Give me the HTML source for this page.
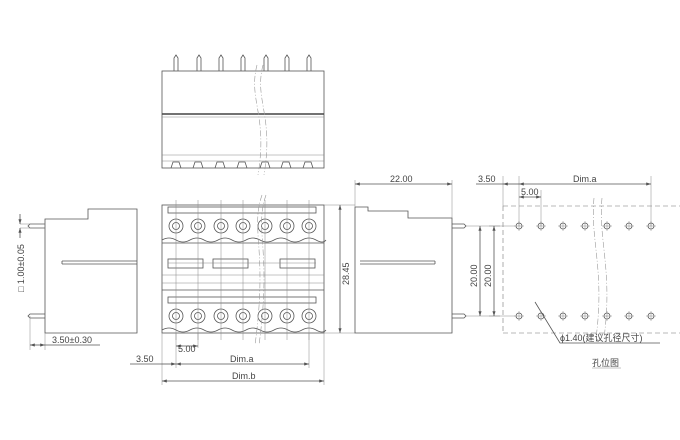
<!DOCTYPE html>
<html><head><meta charset="utf-8"><style>
html,body{margin:0;padding:0;background:#fff}
svg{display:block}
text{font-family:"Liberation Sans","Noto Sans CJK SC",sans-serif;font-size:9px;fill:#444}
.l{stroke:#555;stroke-width:0.8;fill:none}
.t{stroke:#888;stroke-width:0.5;fill:none}
.d{stroke:#777;stroke-width:0.6;fill:none;stroke-dasharray:5 3}
.c{stroke:#999;stroke-width:0.6;fill:none;stroke-dasharray:6 2 1 2}
</style></head><body>
<svg width="680" height="440" viewBox="0 0 680 440">
<defs>
<marker id="a" markerWidth="6" markerHeight="4" refX="6" refY="2" orient="auto-start-reverse"><path d="M0,0L6,2L0,4z" fill="#555"/></marker>
</defs>
<!-- TOP VIEW -->
<g>
<rect class="l" x="162" y="71" width="162" height="97"/>
<line x1="162" y1="114" x2="324" y2="114" stroke="#444" stroke-width="1.6"/>
<line class="t" x1="162" y1="117" x2="324" y2="117"/>
<line class="t" x1="162" y1="155" x2="324" y2="155"/>
<line class="t" x1="162" y1="161" x2="324" y2="161"/>
<g id="pins">
</g>
</g>
<g class="l">
<path d="M174,71V58l2,-3l2,3V71M197,71V58l2,-3l2,3V71M219,71V58l2,-3l2,3V71M241,71V58l2,-3l2,3V71M264,71V58l2,-3l2,3V71M285,71V58l2,-3l2,3V71M307,71V58l2,-3l2,3V71"/>
<path d="M171,168l2,-6h6l2,6M193,168l2,-6h6l2,6M215,168l2,-6h6l2,6M237,168l2,-6h6l2,6M260,168l2,-6h6l2,6M281,168l2,-6h6l2,6M303,168l2,-6h6l2,6"/>
</g>
<path class="c" d="M257,65C248,100 268,115 258,175M263,65C254,100 274,115 264,175"/>

<!-- FRONT VIEW -->
<rect class="l" x="162" y="205" width="162" height="128"/>
<line class="l" x1="162" y1="243" x2="324" y2="243"/>
<line class="l" x1="162" y1="290" x2="324" y2="290"/>
<line class="t" x1="162" y1="275" x2="324" y2="275"/>
<line class="t" x1="162" y1="283" x2="324" y2="283"/>
<path class="l" d="M162,240q7,-4 14,0q7,4 14,0q7,-4 14,0q7,4 14,0q7,-4 14,0q7,4 14,0q7,-4 14,0q7,4 14,0q7,-4 14,0q7,4 14,0q7,-4 14,0q7,4 10,0"/>
<path class="l" d="M162,330q7,-4 14,0q7,4 14,0q7,-4 14,0q7,4 14,0q7,-4 14,0q7,4 14,0q7,-4 14,0q7,4 14,0q7,-4 14,0q7,4 14,0q7,-4 14,0q7,4 10,0"/>
<g class="l">
<circle cx="176" cy="226" r="7"/><circle cx="198" cy="226" r="7"/><circle cx="221" cy="226" r="7"/><circle cx="243" cy="226" r="7"/><circle cx="265" cy="226" r="7"/><circle cx="287" cy="226" r="7"/><circle cx="309" cy="226" r="7"/>
<circle cx="176" cy="316" r="7"/><circle cx="198" cy="316" r="7"/><circle cx="221" cy="316" r="7"/><circle cx="243" cy="316" r="7"/><circle cx="265" cy="316" r="7"/><circle cx="287" cy="316" r="7"/><circle cx="309" cy="316" r="7"/>
<circle cx="176" cy="226" r="3.5"/><circle cx="198" cy="226" r="3.5"/><circle cx="221" cy="226" r="3.5"/><circle cx="243" cy="226" r="3.5"/><circle cx="265" cy="226" r="3.5"/><circle cx="287" cy="226" r="3.5"/><circle cx="309" cy="226" r="3.5"/>
<circle cx="176" cy="316" r="3.5"/><circle cx="198" cy="316" r="3.5"/><circle cx="221" cy="316" r="3.5"/><circle cx="243" cy="316" r="3.5"/><circle cx="265" cy="316" r="3.5"/><circle cx="287" cy="316" r="3.5"/><circle cx="309" cy="316" r="3.5"/>
<rect x="168" y="207" width="148" height="6"/>
<rect x="168" y="297" width="148" height="6"/>
<rect x="168" y="259" width="35" height="9"/><rect x="213" y="259" width="35" height="9"/><rect x="280" y="259" width="35" height="9"/>
</g>
<g class="t">
<path d="M176,200V340M198,200V340M221,200V340M243,200V340M265,200V340M287,200V340M309,200V340"/>
<line x1="168" y1="263" x2="316" y2="263"/>
</g>
<path class="c" d="M262,195C250,230 268,250 255,345M266,195C254,230 272,250 259,345"/>

<!-- dims front -->
<g class="t"><path d="M162,333V385M324,333V385M176,333V368M309,333V368M198,333V348"/></g>
<line class="l" x1="176" y1="346" x2="198" y2="346" marker-start="url(#a)" marker-end="url(#a)"/>
<text x="178" y="352">5.00</text>
<line class="l" x1="130" y1="364" x2="162" y2="364"/>
<line class="l" x1="162" y1="364" x2="176" y2="364" marker-end="url(#a)"/>
<text x="136" y="362">3.50</text>
<line class="l" x1="176" y1="364" x2="309" y2="364" marker-start="url(#a)" marker-end="url(#a)"/>
<text x="230" y="362">Dim.a</text>
<line class="l" x1="162" y1="381" x2="324" y2="381" marker-start="url(#a)" marker-end="url(#a)"/>
<text x="232" y="379">Dim.b</text>
<line class="l" x1="340" y1="205" x2="340" y2="333" marker-start="url(#a)" marker-end="url(#a)"/>
<g class="t"><path d="M324,205H355M324,333H355"/></g>
<text transform="translate(349,285) rotate(-90)">28.45</text>

<!-- LEFT SIDE VIEW -->
<path class="l" d="M45,333V219H88V209H137V333Z"/>
<path class="l" d="M62,261H137M62,264H137M62,261V264"/>
<path class="l" d="M45,224H30l-2,2l2,2H45M45,314H30l-2,2l2,2H45"/>
<g class="t"><path d="M20,224H45M20,228H45M30,316V350M45,333V350"/></g>
<line class="l" x1="20" y1="214" x2="20" y2="224" marker-end="url(#a)"/>
<line class="l" x1="20" y1="238" x2="20" y2="228" marker-end="url(#a)"/>
<text transform="translate(24,292) rotate(-90)">□ 1.00±0.05</text>
<line class="l" x1="30" y1="345" x2="45" y2="345" marker-start="url(#a)" marker-end="url(#a)"/>
<line class="l" x1="45" y1="345" x2="100" y2="345"/>
<text x="52" y="343">3.50±0.30</text>

<!-- RIGHT SIDE VIEW -->
<path class="l" d="M355,333V207H368V211H408V218H452V333Z"/>
<path class="l" d="M360,261H435M360,264H435M435,261V264"/>
<path class="l" d="M452,224H464l2,2l-2,2H452M452,314H464l2,2l-2,2H452"/>
<g class="t"><path d="M355,207V180M452,218V180"/></g>
<line class="l" x1="355" y1="184" x2="452" y2="184" marker-start="url(#a)" marker-end="url(#a)"/>
<text x="390" y="182">22.00</text>

<!-- HOLE LAYOUT -->
<path class="d" d="M503,206H680M503,333H680M503,206V333"/>
<g class="t">
<path d="M466,226H500M466,316H500M489,226H515M489,316H515"/>
<path d="M503,176V206M519,176V226M541,190V226M651,176V226"/>
</g>
<line class="l" x1="480" y1="226" x2="480" y2="316" marker-start="url(#a)" marker-end="url(#a)"/>
<line class="l" x1="494" y1="226" x2="494" y2="316" marker-start="url(#a)" marker-end="url(#a)"/>
<text transform="translate(477,287) rotate(-90)">20.00</text>
<text transform="translate(491,287) rotate(-90)">20.00</text>
<line class="l" x1="476" y1="184" x2="503" y2="184"/>
<text x="478" y="182">3.50</text>
<line class="l" x1="503" y1="184" x2="519" y2="184" marker-start="url(#a)"/>
<line class="l" x1="519" y1="184" x2="651" y2="184" marker-start="url(#a)" marker-end="url(#a)"/>
<text x="573" y="182">Dim.a</text>
<line class="l" x1="519" y1="197" x2="541" y2="197" marker-start="url(#a)" marker-end="url(#a)"/>
<text x="521" y="195">5.00</text>
<g class="l">
<circle cx="519" cy="226" r="3"/><circle cx="541" cy="226" r="3"/><circle cx="563" cy="226" r="3"/><circle cx="585" cy="226" r="3"/><circle cx="607" cy="226" r="3"/><circle cx="629" cy="226" r="3"/><circle cx="651" cy="226" r="3"/>
<circle cx="519" cy="316" r="3"/><circle cx="541" cy="316" r="3"/><circle cx="563" cy="316" r="3"/><circle cx="585" cy="316" r="3"/><circle cx="607" cy="316" r="3"/><circle cx="629" cy="316" r="3"/><circle cx="651" cy="316" r="3"/>
</g>
<g class="t">
<path d="M514,226h10M519,221v10M536,226h10M541,221v10M558,226h10M563,221v10M580,226h10M585,221v10M602,226h10M607,221v10M624,226h10M629,221v10M646,226h10M651,221v10"/>
<path d="M514,316h10M519,311v10M536,316h10M541,311v10M558,316h10M563,311v10M580,316h10M585,311v10M602,316h10M607,311v10M624,316h10M629,311v10M646,316h10M651,311v10"/>
</g>
<path class="c" d="M594,198C590,240 605,270 596,338M602,198C598,240 613,270 604,338"/>
<path class="l" d="M535,302L560,343H660"/>
<text x="560" y="341">ϕ1.40(建议孔径尺寸)</text>
<text x="592" y="366">孔位图</text>
<line class="t" x1="592" y1="368" x2="621" y2="368"/>
</svg>
</body></html>
